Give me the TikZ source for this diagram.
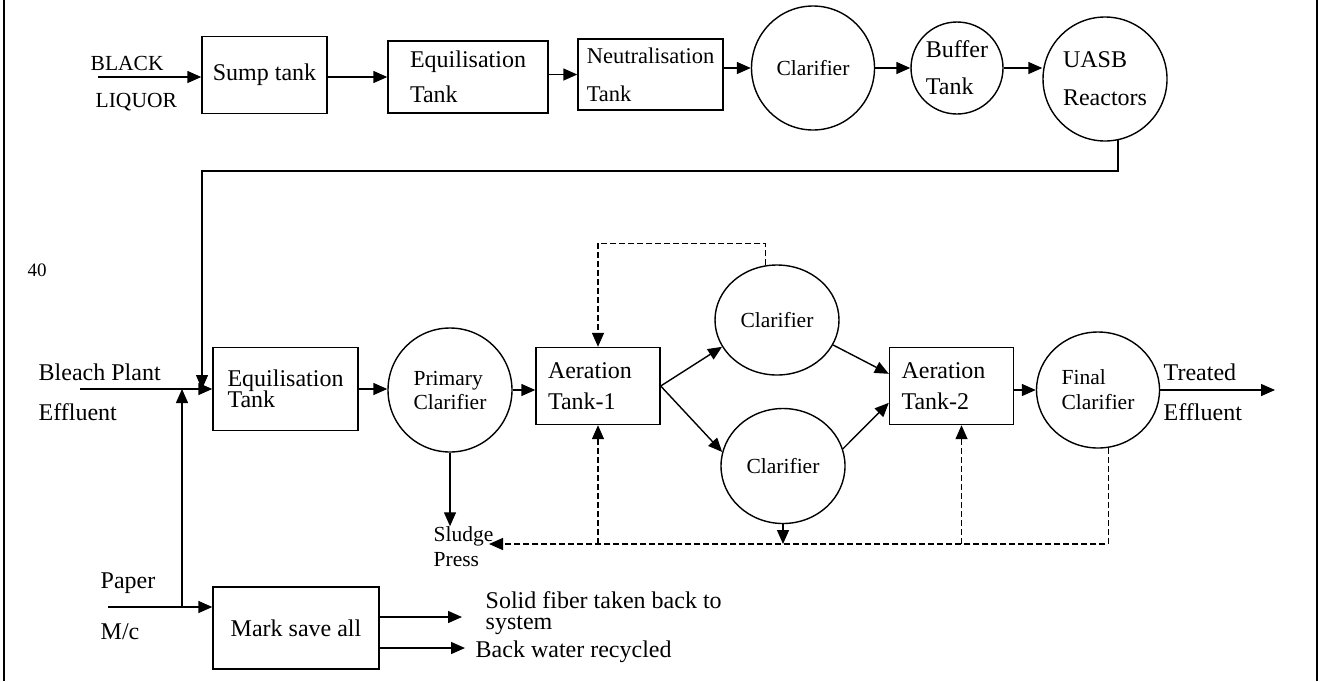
\documentclass[tikz,border=0pt]{standalone}
\usepackage{fontspec}
\setmainfont{Liberation Serif}
\usetikzlibrary{shapes.geometric,arrows.meta}
\newcommand{\bigtxt}{\fontsize{12}{14}\selectfont}
\newcommand{\smalltxt}{\fontsize{10.75}{13}\selectfont}

\begin{document}
\begin{tikzpicture}[x=0.5pt, y=-0.5pt, line width=0.7pt, >={Triangle[length=7pt,width=6pt]},
  tank/.style = {draw, rectangle, inner sep=0pt, align=left, font=\bigtxt},
  pond/.style = {draw, ellipse, inner sep=0pt, align=left, font=\smalltxt},
  txt/.style = {inner sep=0pt, anchor=west, align=left, font=\bigtxt},
  ret/.style = {dash pattern=on 3pt off 1.5pt}]
\useasboundingbox (0,0) rectangle (1320,681);
\draw[line width=1pt] (4,0) -- (4,681);
\draw[line width=1pt] (1317,0) -- (1317,681);

% black liquor line
\node[txt, font=\smalltxt] (black) at (90,63) {BLACK};
\node[txt, font=\smalltxt] (liquor) at (95,102) {LIQUOR};
\coordinate (blk) at (98,77);
\node[tank, minimum width=62.5pt, minimum height=38.5pt] (sump) at (264.5,75) {Sump tank};
\node[tank, minimum width=80pt, minimum height=36pt] (equ1) at (468,77) {Equilisation\\[3.5pt]Tank};
\node[tank, minimum width=72.5pt, minimum height=35.5pt, font=\fontsize{11.25}{13.5}\selectfont] (neut) at (650.5,74.5) {Neutralisation\\[5.5pt]Tank};
\node[pond, minimum width=61.5pt, minimum height=62pt] (clar1) at (813,68) {Clarifier};
\node[pond, minimum width=46pt, minimum height=46pt, font=\bigtxt] (buffer) at (957,68) {Buffer\\[4.5pt]Tank};
\node[pond, minimum width=62pt, minimum height=62pt, font=\bigtxt] (uasb) at (1105,79) {UASB\\[5pt]Reactors};
\coordinate (turn) at (202,171);

% bleach plant line
\node[txt, font=\fontsize{9.5}{11}\selectfont] (forty) at (27,270) {40};
\node[txt] (bleach) at (38,372) {Bleach Plant};
\node[txt] (eff1) at (38,412) {Effluent};
\coordinate (bl) at (80,389);
\coordinate (jn1) at (202,389);
\coordinate (jn2) at (182,389);
\node[tank, minimum width=72.5pt, minimum height=41.5pt] (equ2) at (285.5,389) {Equilisation\\[-3.5pt]Tank};
\node[pond, minimum width=62pt, minimum height=62pt] (prim) at (450,390) {Primary\\[-1pt]Clarifier};
\node[tank, text width=50pt, inner xsep=6pt, minimum height=38.5pt] (aer1) at (598,386) {Aeration\\[1.5pt]Tank-1};
\node[pond, minimum width=62pt, minimum height=55pt] (clar2) at (777,320) {Clarifier};
\node[pond, minimum width=62pt, minimum height=57.5pt] (clar3) at (783,466) {Clarifier};
\node[tank, text width=50pt, inner xsep=6pt, minimum height=38.5pt] (aer2) at (951.5,386) {Aeration\\[1.5pt]Tank-2};
\node[pond, minimum width=61.5pt, minimum height=58pt] (final) at (1098,390) {Final\\[-0.5pt]Clarifier};
\node[txt] (treated) at (1163,372) {Treated};
\node[txt] (eff2) at (1163,412) {Effluent};
\coordinate (out) at (1275,390);
\node[txt, font=\smalltxt] (sludge) at (433,547) {Sludge\\[-0.5pt]Press};
\coordinate (sp) at (489,544);
\coordinate (a2in) at ([xshift=5pt]aer2.south);

% paper machine line
\node[txt] (paper) at (100,583) {Paper};
\node[txt] (mc) at (100,632) {M/c};
\coordinate (pp) at (108,607);
\node[tank, minimum width=83pt, minimum height=41pt] (mark) at (296,628) {Mark save all};
\node[txt] (solid) at (485,613) {Solid fiber taken back to\\[-3.5pt]system};
\node[txt] (back) at (475,652) {Back water recycled};
\coordinate (fib) at (462,617);
\coordinate (bw) at (465,648);

\draw[->] (blk) -- (blk -| sump.west);
\draw[->] (sump.east |- equ1) -- (equ1.west);
\draw[->] (equ1.east |- neut) -- (neut.west);
\draw[->] (neut.east |- clar1) -- (clar1.west);
\draw[->] (clar1) -- (buffer);
\draw[->] (buffer.east) -- (buffer.east -| uasb.west);
\draw[->] (uasb.-78) |- (turn) -- (jn1);
\draw[->] (bl) -- (equ2.west);
\draw[->] (pp) -- (pp -| mark.west);
\draw[->] (pp -| jn2) -- (jn2);
\draw[->] (equ2.east) -- (equ2.east -| prim.west);
\draw[->] (prim.east) -- (prim.east -| aer1.west);
\draw[->] (prim.south) -- (prim.south |- sludge.north);
\draw[->] (aer1.east) -- (clar2.206);
\draw[->] (aer1.east) -- (clar3.167);
\draw[->] (clar2.-24) -- (aer2.169);
\draw[->] (clar3.16) -- (aer2.195);
\draw[->] (aer2.east |- final) -- (final.west);
\draw[->] (final) -- (out);
\draw[->] (mark.east |- fib) -- (fib);
\draw[->] (mark.east |- bw) -- (bw);
% sludge returns
\draw[->, ret] (clar2.102) -- ++(0,-22) -| (aer1.north);
\draw[->, ret] (final.-80) |- (sp);
\draw[->, ret] (aer1.south |- sp) -- (aer1.south);
\draw[->, ret] (a2in |- sp) -- (a2in);
\draw[->, ret] (clar3.south) -- (clar3.south |- sp);
\end{tikzpicture}
\end{document}
